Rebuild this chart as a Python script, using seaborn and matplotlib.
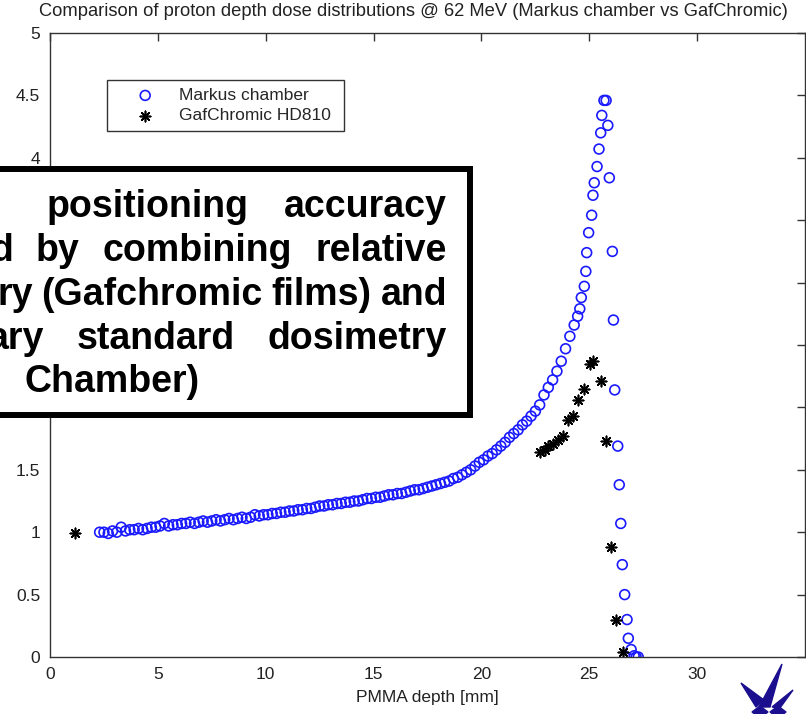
import numpy as np
import pandas as pd
import seaborn as sns
import matplotlib.pyplot as plt
from matplotlib.patches import Rectangle, Polygon
from matplotlib.ticker import FormatStrFormatter

sns.set_style("white")
plt.rcParams['font.family'] = ['Liberation Sans', 'DejaVu Sans']

# ---- data ----
# Markus chamber, plateau (dense scan)
markus_plateau_depth = [
    2.3, 2.5, 2.7, 2.9, 3.1, 3.3, 3.5, 3.7, 3.9, 4.1, 4.3, 4.5, 4.7, 4.9,
    5.1, 5.3, 5.5, 5.7, 5.9, 6.1, 6.3, 6.5, 6.7, 6.9, 7.1, 7.3, 7.5, 7.7,
    7.9, 8.1, 8.3, 8.5, 8.7, 8.9, 9.1, 9.3, 9.5, 9.7, 9.9, 10.1, 10.3, 10.5,
    10.7, 10.9, 11.1, 11.3, 11.5, 11.7, 11.9, 12.1, 12.3, 12.5, 12.7, 12.9,
    13.1, 13.3, 13.5, 13.7, 13.9, 14.1, 14.3, 14.5, 14.7, 14.9, 15.1, 15.3,
    15.5, 15.7, 15.9, 16.1, 16.3, 16.5, 16.7, 16.9, 17.1, 17.3, 17.5, 17.7,
    17.9, 18.1, 18.3, 18.5, 18.7, 18.9, 19.1, 19.3, 19.5, 19.7, 19.9, 20.1,
    20.3, 20.5, 20.7, 20.9, 21.1, 21.3, 21.5, 21.7, 21.9, 22.1, 22.3, 22.5,
    22.7, 22.9, 23.1, 23.3, 23.5, 23.7, 23.9, 24.1, 24.3,
]
markus_plateau_dose = [
    1.00, 1.00, 0.99, 1.01, 1.00, 1.04, 1.01, 1.02, 1.02, 1.03, 1.02, 1.03,
    1.04, 1.04, 1.05, 1.07, 1.05, 1.06, 1.06, 1.07, 1.07, 1.08, 1.07, 1.08,
    1.09, 1.08, 1.09, 1.10, 1.09, 1.10, 1.11, 1.10, 1.11, 1.12, 1.11, 1.12,
    1.14, 1.13, 1.14, 1.14, 1.15, 1.15, 1.16, 1.16, 1.17, 1.17, 1.18, 1.18,
    1.19, 1.19, 1.20, 1.21, 1.21, 1.22, 1.22, 1.23, 1.23, 1.24, 1.24, 1.25,
    1.25, 1.26, 1.27, 1.27, 1.28, 1.28, 1.29, 1.30, 1.30, 1.31, 1.31, 1.32,
    1.33, 1.34, 1.34, 1.35, 1.36, 1.37, 1.38, 1.39, 1.40, 1.41, 1.43, 1.44,
    1.46, 1.48, 1.50, 1.53, 1.56, 1.58, 1.61, 1.63, 1.66, 1.69, 1.72, 1.76,
    1.79, 1.82, 1.86, 1.89, 1.93, 1.97, 2.02, 2.10, 2.16, 2.22, 2.29, 2.37,
    2.47, 2.57, 2.66,
]
# Markus chamber, Bragg peak region
markus_peak_depth = [
    24.46, 24.56, 24.63, 24.77, 24.84, 24.88, 24.97, 25.11, 25.17, 25.23,
    25.36, 25.45, 25.53, 25.58, 25.68, 25.78, 25.86, 25.93, 26.07, 26.12,
    26.18, 26.32, 26.39, 26.46, 26.53, 26.64, 26.75, 26.81, 26.94, 27.08,
    27.17, 27.27,
]
markus_peak_dose = [
    2.73, 2.79, 2.88, 2.97, 3.09, 3.24, 3.40, 3.54, 3.70, 3.80,
    3.93, 4.07, 4.20, 4.34, 4.46, 4.46, 4.26, 3.84, 3.25, 2.70,
    2.14, 1.69, 1.38, 1.07, 0.74, 0.50, 0.30, 0.15, 0.06, 0.01,
    0.00, 0.00,
]
# GafChromic HD810
gaf_depth = [
    1.16, 22.72, 22.95, 23.10, 23.33, 23.57, 23.77, 24.03, 24.26, 24.49,
    24.77, 25.03, 25.19, 25.53, 25.76, 26.00, 26.24, 26.55,
]
gaf_dose = [
    0.99, 1.64, 1.66, 1.69, 1.71, 1.74, 1.77, 1.90, 1.93, 2.06,
    2.15, 2.35, 2.37, 2.21, 1.73, 0.88, 0.30, 0.04,
]

x_ticks = [0, 5, 10, 15, 20, 25, 30]
y_ticks = [0, 0.5, 1, 1.5, 2, 2.5, 3, 3.5, 4, 4.5, 5]

markus = pd.DataFrame({
    "depth": markus_plateau_depth + markus_peak_depth,
    "dose": markus_plateau_dose + markus_peak_dose,
})
gaf = pd.DataFrame({"depth": gaf_depth, "dose": gaf_dose})

W, H = 806, 714
fig = plt.figure(figsize=(W / 100, H / 100), dpi=100)
ax = fig.add_axes([50 / W, 1 - 657 / H, 755 / W, 624 / H])

sns.scatterplot(data=markus, x="depth", y="dose", ax=ax, marker="o", s=50,
                facecolor="none", edgecolor="#1a1aff", linewidth=1.2,
                label="Markus chamber")
sns.scatterplot(data=gaf, x="depth", y="dose", ax=ax, marker=(8, 2, 0), s=55,
                color="black", linewidth=1.2, label="GafChromic HD810")

ax.set_xlim(0, 35)
ax.set_ylim(0, 5)
ax.set_xticks(x_ticks)
ax.set_yticks(y_ticks)
ax.yaxis.set_major_formatter(FormatStrFormatter('%g'))
ax.tick_params(direction="in", top=True, right=True, length=6, width=1,
               color="#333333", labelcolor="#222222", labelsize=12.5, pad=7)
for sp in ax.spines.values():
    sp.set_color("#333333")
    sp.set_linewidth(1.0)
ax.set_xlabel("PMMA depth [mm]", fontsize=12.5, color="#222222", labelpad=6)
ax.set_ylabel("")

leg = ax.legend(loc="upper left",
                bbox_to_anchor=(107 / W, 1 - 134 / H, 237 / W, 54 / H),
                bbox_transform=fig.transFigure, mode="expand",
                fancybox=False, edgecolor="#333333", framealpha=1,
                borderaxespad=0, fontsize=12.5, scatterpoints=1,
                handlelength=3.5, handletextpad=0.2, labelspacing=0.3,
                borderpad=0.45)
leg.get_frame().set_linewidth(1.0)

fig.text(413 / W, 1 - 12 / H,
         "Comparison of proton depth dose distributions @ 62 MeV "
         "(Markus chamber vs GafChromic)",
         ha="center", va="center", fontsize=13.2, color="#222222")

# annotation box (cut by left edge)
box = Rectangle((-20 / W, 1 - 415 / H), 490 / W, 246 / H,
                transform=fig.transFigure, facecolor="white",
                edgecolor="black", linewidth=4.3, zorder=5)
fig.add_artist(box)

box_lines = [
    (["positioning", "accuracy"], 47, 447, 217),
    (["d", "by", "combining", "relative"], -10, 447, 261),
    (["ry", "(Gafchromic", "films)", "and"], -3, 447, 305),
    (["ary", "standard", "dosimetry"], -12, 447, 349),
    (["Chamber)"], 25, 447, 392),
]
fig.canvas.draw()
renderer = fig.canvas.get_renderer()
for words, x0, x1, yb in box_lines:
    texts = [fig.text(0, 1 - yb / H, w, fontsize=27, fontweight="bold",
                      color="black", va="baseline", ha="left", zorder=6)
             for w in words]
    widths = [t.get_window_extent(renderer).width for t in texts]
    gap = (x1 - x0 - sum(widths)) / (len(words) - 1) if len(words) > 1 else 0
    x = x0
    for t, w in zip(texts, widths):
        t.set_x(x / W)
        x += w + gap

# small logo, bottom right
logo = "#1c0f8f"
shapes = [
    [(759, 707), (782, 664), (770, 707)],
    [(756, 707), (741, 683), (764, 700)],
    [(772, 707), (793, 690), (780, 708)],
    [(752, 712), (760, 706), (768, 712), (760, 718)],
    [(770, 712), (778, 706), (786, 712), (778, 718)],
]
for pts in shapes:
    fig.add_artist(Polygon([(px / W, 1 - py / H) for px, py in pts],
                           closed=True, transform=fig.transFigure,
                           facecolor=logo, edgecolor=logo, zorder=6))

fig.savefig("out.png", dpi=100)
